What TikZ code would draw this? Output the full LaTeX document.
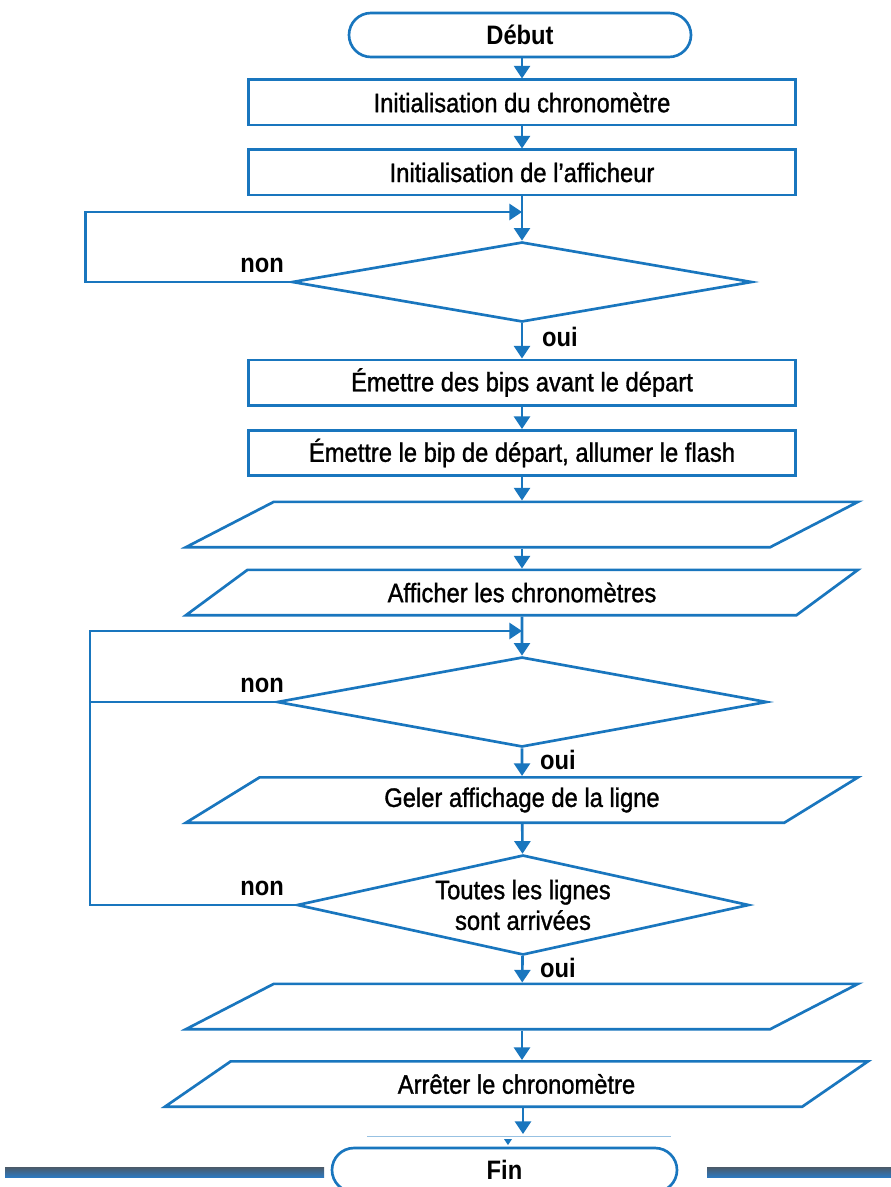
\documentclass[tikz,border=0pt]{standalone}
\usepackage{fontspec}
\setmainfont{Liberation Sans}[FakeStretch=0.89, UprightFeatures={FakeBold=1.2}]
\usetikzlibrary{arrows.meta,shapes.geometric,shapes.misc}
\definecolor{fblue}{RGB}{25,118,190}
\definecolor{barblue}{RGB}{45,120,190}
\definecolor{barlight}{RGB}{110,165,215}
\definecolor{bargray}{RGB}{75,90,105}
\begin{document}
\begin{tikzpicture}[x=0.75pt,y=-0.75pt,
  every node/.style={font=\fontsize{20}{23}\selectfont, text=black},
  box/.style={draw=fblue, line width=2pt, inner sep=0pt},
  proc/.style={box, rectangle, minimum width=410.25pt, minimum height=34pt},
  term/.style={box, rounded rectangle, minimum width=256.5pt, minimum height=33pt, font=\fontsize{20}{23}\selectfont\bfseries},
  dec/.style={box, diamond},
  io/.style={box, inner sep=2pt, trapezium, trapezium left angle=22.3, trapezium right angle=157.7, trapezium stretches body=true, minimum width=504pt, minimum height=34pt},
  arr/.style={draw=fblue, line width=2pt, -{Triangle[length=9.5pt,width=12pt]}},
  link/.style={draw=fblue, line width=2pt},
  lab/.style={font=\fontsize{20}{23}\selectfont\bfseries, inner sep=0pt}
]
\useasboundingbox (0,0) rectangle (891,1187);
\clip (0,0) rectangle (891,1187);
\fill[white] (0,0) rectangle (891,1187);

% nodes
\node[term] (deb) at (520,35) {Début};
\node[proc] (b1) at (522,102.5) {Initialisation du chronomètre};
\node[proc] (b2) at (522,172.5) {Initialisation de l’afficheur};
\node[dec, minimum width=345pt, minimum height=60pt] (d1) at (522,282) {};
\node[proc] (b3) at (522,382.5) {Émettre des bips avant le départ};
\node[proc] (b4) at (522,453) {Émettre le bip de départ, allumer le flash};
\node[io] (p1) at (522,524.5) {\strut};
\node[io] (p2) at (522,592.5) {Afficher les chronomètres};
\node[dec, minimum width=367.5pt, minimum height=67.5pt] (d2) at (522,702) {};
\node[io] (p3) at (522,800) {Geler affichage de la ligne};
\node[dec, shape aspect=4.5, minimum width=339pt, minimum height=75pt, align=center] (d3) at (523,905) {Toutes les lignes\\sont arrivées};
\node[io] (p4) at (522,1006.5) {\strut};
\node[io, trapezium left angle=21, trapezium right angle=159, minimum width=527.25pt] (p5) at (516.5,1084) {Arrêter le chronomètre};
\node[term, minimum width=258.75pt] (fin) at (504.5,1170) {Fin};

% helper coordinates
\coordinate (j1) at (522,212);
\coordinate (j2) at (522,631);
\coordinate (lx) at (90,631);
\coordinate (t) at (523,1134);

% connectors
\draw[arr] (deb.south -| b1.north) -- (b1);
\draw[arr] (b1) -- (b2);
\draw[arr] (b2) -- (d1);
\draw[arr] (d1.west) -- ++(-205,0) |- (j1);
\node[lab] at (262,265) {non};
\draw[arr] (d1) -- (b3);
\node[lab] at (560,337) {oui};
\draw[arr] (b3) -- (b4);
\draw[arr] (b4) -- (p1);
\draw[arr] (p1) -- (p2);
\draw[arr] (p2) -- (d2);
\draw[arr] (d3.west) -- (d3.west -| lx) -- (lx) -- (j2);
\draw[link] (d2.west) -- (d2.west -| lx);
\node[lab] at (262,685) {non};
\draw[arr] (d2) -- (p3);
\node[lab] at (558,760) {oui};
\draw[arr] (p3) -- (d3);
\node[lab] at (262,888) {non};
\draw[arr] (d3) -- (p4);
\node[lab] at (558,968) {oui};
\draw[arr] (p4.south) -- (p4.south |- p5.north);
\draw[arr] (p5.south -| t) -- (t);

% thin line and small tip above Fin
\draw[fblue!45, line width=0.6pt] (367,1136) -- (671,1136);
\fill[fblue] (504,1139) -- (512,1139) -- (508,1145) -- cycle;

% decorative bars
\shade[top color=bargray, middle color=barlight, bottom color=barblue] (5,1167) rectangle (324,1177);
\shade[top color=bargray, middle color=barlight, bottom color=barblue] (707,1167) rectangle (891,1177);
\end{tikzpicture}
\end{document}
